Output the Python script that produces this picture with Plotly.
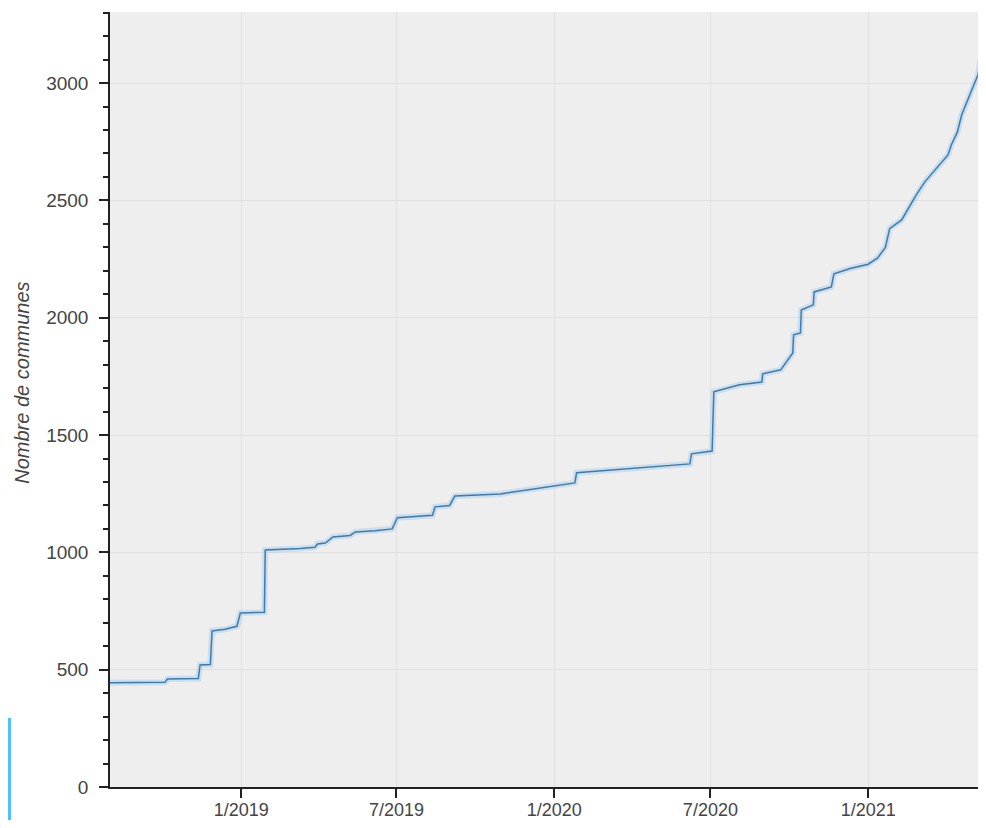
import plotly.graph_objects as go

dates = [
    "2018-08-01", "2018-10-04", "2018-10-07", "2018-11-12", "2018-11-14",
    "2018-11-26", "2018-11-28", "2018-12-13", "2018-12-27", "2018-12-31",
    "2019-01-28", "2019-01-29", "2019-03-11", "2019-03-28", "2019-03-31",
    "2019-04-09", "2019-04-18", "2019-05-08", "2019-05-14", "2019-06-06",
    "2019-06-26", "2019-07-02", "2019-08-12", "2019-08-15", "2019-09-01",
    "2019-09-07", "2019-10-30", "2019-12-15", "2020-01-25", "2020-01-27",
    "2020-03-26", "2020-06-07", "2020-06-09", "2020-07-03", "2020-07-05",
    "2020-08-04", "2020-08-30", "2020-08-31", "2020-09-21", "2020-09-28",
    "2020-10-05", "2020-10-06", "2020-10-14", "2020-10-15", "2020-10-29",
    "2020-10-30", "2020-11-19", "2020-11-22", "2020-12-11", "2021-01-01",
    "2021-01-12", "2021-01-21", "2021-01-26", "2021-02-09", "2021-02-26",
    "2021-03-08", "2021-03-17", "2021-04-04", "2021-04-08", "2021-04-15",
    "2021-04-20", "2021-04-27", "2021-05-09", "2021-05-13", "2021-05-18",
]
communes = [
    444, 446, 460, 462, 520,
    522, 665, 672, 685, 742,
    745, 1010, 1016, 1022, 1036,
    1040, 1066, 1072, 1087, 1092,
    1100, 1148, 1158, 1194, 1200,
    1240, 1249, 1275, 1296, 1339,
    1356, 1377, 1420, 1432, 1684,
    1714, 1726, 1761, 1778, 1812,
    1850, 1927, 1935, 2033, 2055,
    2110, 2131, 2187, 2210, 2228,
    2255, 2300, 2380, 2417, 2524,
    2579, 2617, 2694, 2737, 2792,
    2865, 2929, 3035, 3120, 3172,
]

x_tick_dates = ["2019-01-01", "2019-07-01", "2020-01-01", "2020-07-01", "2021-01-01"]
x_tick_labels = ["1/2019", "7/2019", "1/2020", "7/2020", "1/2021"]
y_tick_values = [0, 500, 1000, 1500, 2000, 2500, 3000]
y_title = "Nombre de communes"

fig = go.Figure()
fig.add_trace(go.Scatter(
    x=dates, y=communes, mode="lines",
    line=dict(color="rgba(140,190,230,0.35)", width=6),
    hoverinfo="skip", showlegend=False,
))
fig.add_trace(go.Scatter(
    x=dates, y=communes, mode="lines",
    line=dict(color="#3b7bb0", width=1.5),
    showlegend=False,
))

FAMILY = "Liberation Sans, Arial, sans-serif"
font = dict(family=FAMILY, size=19, color="#444444")
xfont = dict(family=FAMILY, size=18, color="#444444")

fig.update_layout(
    width=970, height=812,
    margin=dict(l=102, r=0, t=4, b=33, autoexpand=False),
    paper_bgcolor="white",
    plot_bgcolor="#eeeeee",
    font=font,
    showlegend=False,
    shapes=[dict(
        type="rect", xref="paper", yref="paper",
        x0=-0.1175, x1=-0.1140, y0=-0.043, y1=0.089,
        line=dict(width=0), fillcolor="#4fc3f7",
    )],
    annotations=[dict(
        text="<i>" + y_title + "</i>", textangle=-90,
        xref="paper", yref="paper", x=-0.1008, y=0.521,
        xanchor="center", yanchor="middle", showarrow=False,
        font=dict(family=FAMILY, size=20, color="#444444"),
    )],
)
fig.update_xaxes(
    range=["2018-08-01", "2021-05-09"],
    tickvals=x_tick_dates, ticktext=x_tick_labels,
    ticks="outside", ticklen=9, tickwidth=1.5, tickcolor="#222222",
    showline=True, linecolor="#222222", linewidth=1.5,
    showgrid=True, gridcolor="#e0e0e0", gridwidth=1,
    zeroline=False, tickfont=xfont, automargin=False,
    ticklabelstandoff=-3,
)
fig.update_yaxes(
    range=[0, 3303],
    tickvals=y_tick_values,
    ticks="outside", ticklen=9, tickwidth=1.5, tickcolor="#222222",
    minor=dict(dtick=100, tick0=0, ticks="outside", ticklen=5, tickwidth=1.5,
               tickcolor="#222222", showgrid=False),
    showline=True, linecolor="#222222", linewidth=1.5,
    showgrid=True, gridcolor="#e0e0e0", gridwidth=1,
    zeroline=False, tickfont=font, automargin=False,
    ticklabelstandoff=7,
)

fig.write_html("out.html")
